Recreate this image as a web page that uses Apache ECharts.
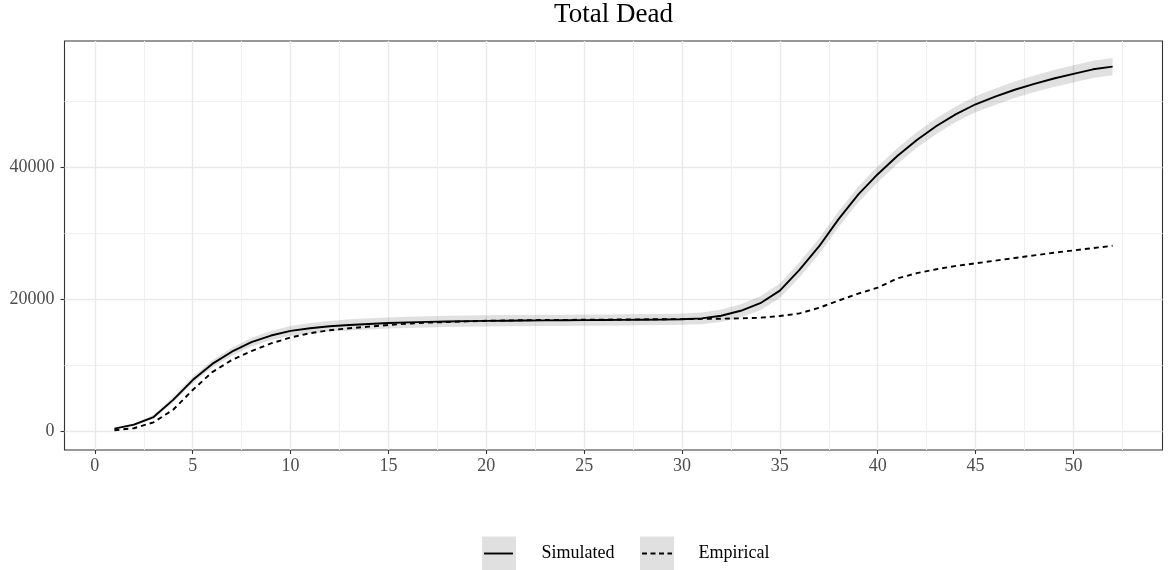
<!DOCTYPE html>
<html>
<head>
<meta charset="utf-8">
<script src="https://cdn.jsdelivr.net/npm/echarts@6/dist/echarts.min.js"></script>
<style>
html,body{margin:0;padding:0;background:#fff;}
#chart{width:1169px;height:570px;}
</style>
</head>
<body>
<div id="chart"></div>
<script>
// ---- data ----
const weeks = [1,2,3,4,5,6,7,8,9,10,11,12,13,14,15,16,17,18,19,20,21,22,23,24,25,26,27,28,29,30,31,32,33,34,35,36,37,38,39,40,41,42,43,44,45,46,47,48,49,50,51,52];
const simulated = [350,950,2100,4700,7700,10150,12000,13450,14450,15150,15550,15850,16050,16200,16350,16450,16520,16580,16630,16670,16700,16720,16740,16760,16780,16800,16820,16850,16880,16920,17050,17450,18200,19350,21250,24400,27950,32100,35800,38900,41650,44100,46200,48000,49500,50650,51700,52600,53400,54100,54800,55200];
const simulatedLow = [250,750,1800,4300,7200,9600,11400,12800,13750,14400,14750,15050,15200,15350,15500,15600,15670,15730,15780,15820,15850,15870,15890,15910,15930,15950,15970,16000,16030,16070,16150,16500,17200,18300,20150,23250,26750,30900,34600,37700,40450,42900,45000,46800,48300,49400,50450,51350,52100,52800,53500,53900];
const simulatedHigh = [450,1150,2400,5100,8200,10700,12600,14100,15150,15900,16350,16650,16900,17050,17200,17300,17370,17430,17480,17520,17550,17570,17590,17610,17630,17650,17670,17700,17730,17770,17950,18400,19200,20400,22350,25550,29150,33300,37000,40100,42850,45300,47400,49200,50700,51900,52950,53850,54700,55400,56100,56500];
const empirical = [100,400,1300,3200,6200,8900,10750,12100,13250,14150,14800,15250,15550,15800,16050,16250,16400,16500,16600,16680,16730,16770,16800,16820,16840,16860,16880,16900,16920,16940,16970,17000,17050,17150,17400,17800,18650,19750,20800,21700,23100,23900,24500,25000,25400,25800,26200,26600,27000,27350,27700,28050];
const xTicks = [0,5,10,15,20,25,30,35,40,45,50];
const yTicks = [0,20000,40000];
const titleText = 'Total Dead';
const legendNames = ['Simulated','Empirical'];

const FONT = 'Liberation Serif';
const pairs = (ys) => weeks.map((w,i)=>[w, ys[i]]);

const chart = echarts.init(document.getElementById('chart'), null, {renderer:'canvas'});

const option = {
  animation: false,
  backgroundColor: '#ffffff',
  grid: {
    left: 64.5, right: 6.5, top: 41, bottom: 120,
    show: true, borderColor: '#333333', borderWidth: 1.1, backgroundColor: 'transparent',
    containLabel: false
  },
  xAxis: {
    type: 'value', min: -1.55, max: 54.55, splitNumber: 10,
    axisLine: {show: false, onZero: false},
    axisTick: {show: true, length: 4, inside: false, lineStyle: {color: '#333333', width: 1.1}, customValues: xTicks},
    axisLabel: {show: true, customValues: xTicks, margin: 7, color: '#4d4d4d', fontFamily: FONT, fontSize: 18,
      formatter: (v) => String(v)},
    splitLine: {show: true, lineStyle: {color: '#e9e9e9', width: 1.4}},
    minorTick: {show: false, splitNumber: 2},
    minorSplitLine: {show: true, lineStyle: {color: '#f0f0f0', width: 1}}
  },
  yAxis: {
    type: 'value', min: -2900, max: 59090, splitNumber: 3,
    axisLine: {show: false, onZero: false},
    axisTick: {show: true, length: 4, inside: false, lineStyle: {color: '#333333', width: 1.1}, customValues: yTicks},
    axisLabel: {show: true, customValues: yTicks, margin: 10, color: '#4d4d4d', fontFamily: FONT, fontSize: 18,
      formatter: (v) => String(v)},
    splitLine: {show: true, lineStyle: {color: '#e9e9e9', width: 1.4}},
    minorTick: {show: false, splitNumber: 2},
    minorSplitLine: {show: true, lineStyle: {color: '#f0f0f0', width: 1}}
  },
  series: [
    {
      type: 'custom',
      name: 'band',
      clip: true,
      z: 1,
      data: [0],
      renderItem: function (params, api) {
        const pts = [];
        for (let i = 0; i < weeks.length; i++) pts.push(api.coord([weeks[i], simulatedHigh[i]]));
        for (let i = weeks.length - 1; i >= 0; i--) pts.push(api.coord([weeks[i], simulatedLow[i]]));
        return {type: 'polygon', shape: {points: pts}, style: {fill: 'rgba(0,0,0,0.12)', stroke: null}};
      }
    },
    {
      type: 'line', name: legendNames[0], data: pairs(simulated), z: 3,
      showSymbol: false, symbol: 'none',
      lineStyle: {color: '#000000', width: 1.9, type: 'solid'}
    },
    {
      type: 'line', name: legendNames[1], data: pairs(empirical), z: 2,
      showSymbol: false, symbol: 'none',
      lineStyle: {color: '#000000', width: 1.9, type: [5, 4]}
    }
  ],
  graphic: [
    {type: 'text', x: 613.5, y: 15, style: {text: titleText, fontFamily: FONT, fontSize: 27, fill: '#000000', textAlign: 'center', textVerticalAlign: 'middle'}},
    {type: 'rect', shape: {x: 482, y: 536.5, width: 34, height: 34}, style: {fill: 'rgba(0,0,0,0.12)'}},
    {type: 'line', shape: {x1: 484, y1: 553.5, x2: 513, y2: 553.5}, style: {stroke: '#000', lineWidth: 1.9}},
    {type: 'text', x: 541.5, y: 553.5, style: {text: legendNames[0], fontFamily: FONT, fontSize: 18, fill: '#000000', textAlign: 'left', textVerticalAlign: 'middle'}},
    {type: 'rect', shape: {x: 640, y: 536.5, width: 34, height: 34}, style: {fill: 'rgba(0,0,0,0.12)'}},
    {type: 'line', shape: {x1: 642, y1: 553.5, x2: 672, y2: 553.5}, style: {stroke: '#000', lineWidth: 1.9, lineDash: [5, 3.5]}},
    {type: 'text', x: 698.5, y: 553.5, style: {text: legendNames[1], fontFamily: FONT, fontSize: 18, fill: '#000000', textAlign: 'left', textVerticalAlign: 'middle'}}
  ]
};
chart.setOption(option);
</script>
</body>
</html>
